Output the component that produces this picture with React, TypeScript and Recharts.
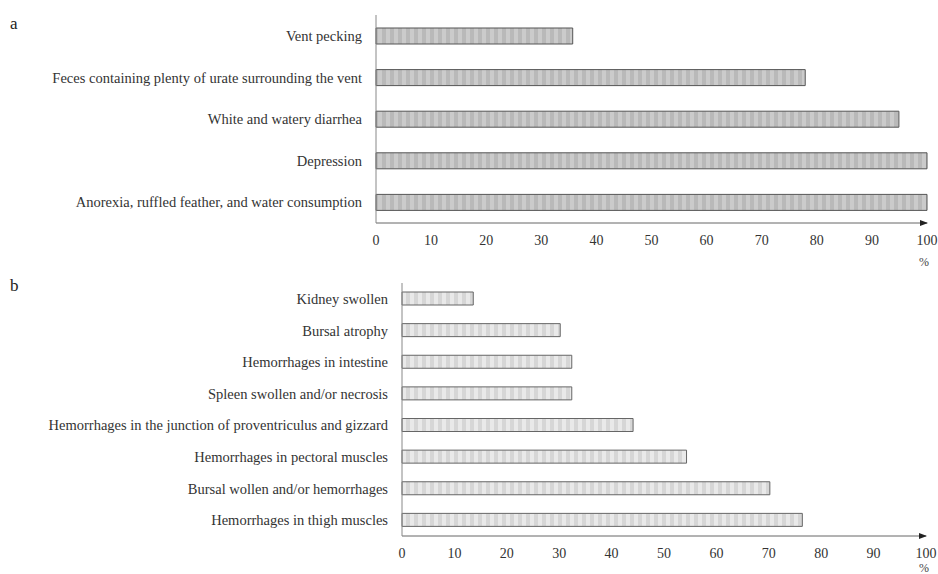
import { BarChart, Bar, XAxis, YAxis } from "recharts";

const signsLabels = [
  "Vent pecking",
  "Feces containing plenty of urate surrounding the vent",
  "White and watery diarrhea",
  "Depression",
  "Anorexia, ruffled feather, and water consumption",
];
const signsValues = [35.7, 77.9, 94.9, 100, 100];

const lesionLabels = [
  "Kidney swollen",
  "Bursal atrophy",
  "Hemorrhages in intestine",
  "Spleen swollen and/or necrosis",
  "Hemorrhages in the junction of proventriculus and gizzard",
  "Hemorrhages in pectoral muscles",
  "Bursal wollen and/or hemorrhages",
  "Hemorrhages in thigh muscles",
];
const lesionValues = [13.6, 30.2, 32.4, 32.4, 44.1, 54.3, 70.2, 76.4];

const xTicks = [0, 10, 20, 30, 40, 50, 60, 70, 80, 90, 100];

const FONT = "'Liberation Serif', 'Times New Roman', serif";

const signsData = signsLabels.map((name, i) => ({ name, value: signsValues[i] }));
const lesionData = lesionLabels.map((name, i) => ({ name, value: lesionValues[i] }));

function Panel({
  data,
  height,
  top,
  yWidth,
  right,
  barSize,
  xHeight,
  id,
  base,
  stripe,
  edge,
}: {
  data: { name: string; value: number }[];
  height: number;
  top: number;
  yWidth: number;
  right: number;
  barSize: number;
  xHeight: number;
  id: string;
  base: string;
  stripe: string;
  edge: string;
}) {
  return (
    <BarChart
      width={938}
      height={height}
      data={data}
      layout="vertical"
      margin={{ top, right, bottom: 0, left: 0 }}
      style={{ fontFamily: FONT }}
    >
      <defs>
        <pattern id={`pat-${id}`} width="8" height="8" patternUnits="userSpaceOnUse">
          <rect width="8" height="8" fill={base} />
          <rect x="2" width="4" height="8" fill={stripe} />
        </pattern>
        <marker id={`arrow-${id}`} markerWidth="8" markerHeight="8" refX="7" refY="4" orient="auto" markerUnits="userSpaceOnUse">
          <path d="M0,1 L8,4 L0,7 Z" fill="#222" />
        </marker>
      </defs>
      <XAxis
        type="number"
        domain={[0, 100]}
        ticks={xTicks}
        height={xHeight}
        tickLine={false}
        tickMargin={6}
        axisLine={{ stroke: "#666", markerEnd: `url(#arrow-${id})` }}
        tick={{ fill: "#333", fontSize: 14, fontFamily: FONT }}
      />
      <YAxis
        type="category"
        dataKey="name"
        width={yWidth}
        tickLine={false}
        tickMargin={8}
        axisLine={{ stroke: "#888" }}
        tick={{ fill: "#333", fontSize: 14.5, fontFamily: FONT }}
        interval={0}
      />
      <Bar
        dataKey="value"
        barSize={barSize}
        fill={`url(#pat-${id})`}
        stroke={edge}
        strokeWidth={1}
        isAnimationActive={false}
      />
    </BarChart>
  );
}

export default function App() {
  return (
    <div style={{ position: "absolute", left: 0, top: 0, width: 938, height: 574, background: "#fff", fontFamily: FONT, overflow: "hidden" }}>
      <div style={{ position: "absolute", left: 0, top: 0 }}>
        <Panel
          data={signsData}
          height={268}
          top={15}
          yWidth={376}
          right={11}
          barSize={16}
          xHeight={45}
          id="a"
          base="#b9b9b9"
          stripe="#cbcbcb"
          edge="#555"
        />
      </div>
      <div style={{ position: "absolute", left: 0, top: 270 }}>
        <Panel
          data={lesionData}
          height={304}
          top={13}
          yWidth={402}
          right={12}
          barSize={13}
          xHeight={38}
          id="b"
          base="#d6d6d6"
          stripe="#e9e9e9"
          edge="#666"
        />
      </div>
      <div style={{ position: "absolute", left: 10, top: 15, fontSize: 17, color: "#222", lineHeight: "17px" }}>a</div>
      <div style={{ position: "absolute", left: 10, top: 277, fontSize: 17, color: "#222", lineHeight: "17px" }}>b</div>
      <div style={{ position: "absolute", left: 919, top: 256, fontSize: 12, color: "#444", lineHeight: "12px" }}>%</div>
      <div style={{ position: "absolute", left: 919, top: 562, fontSize: 12, color: "#444", lineHeight: "12px" }}>%</div>
    </div>
  );
}
